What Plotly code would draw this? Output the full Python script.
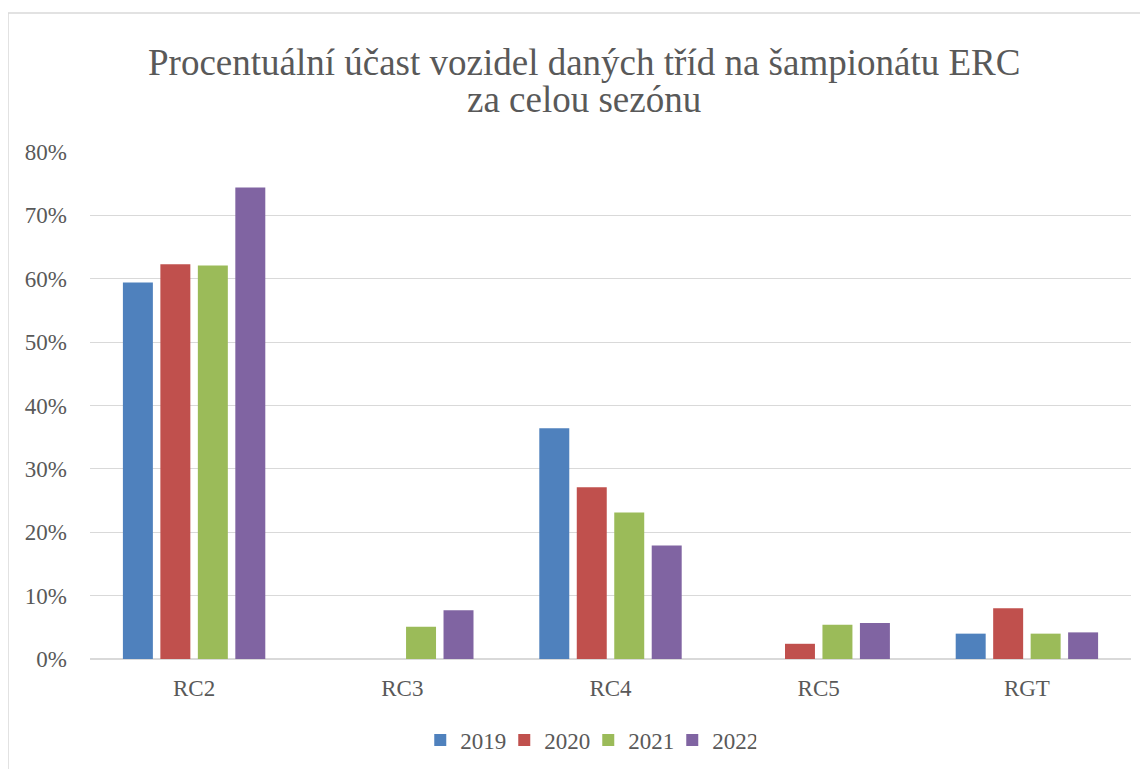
import plotly.graph_objects as go

# category labels and yearly shares (fraction of entries)
classes = ['RC2', 'RC3', 'RC4', 'RC5', 'RGT']
years = ['2019', '2020', '2021', '2022']
share_2019 = [0.594, 0.0, 0.364, 0.0, 0.040]
share_2020 = [0.623, 0.0, 0.271, 0.024, 0.080]
share_2021 = [0.621, 0.051, 0.231, 0.054, 0.040]
share_2022 = [0.744, 0.077, 0.179, 0.057, 0.042]
y_ticks = [0, 0.1, 0.2, 0.3, 0.4, 0.5, 0.6, 0.7, 0.8]

series = [share_2019, share_2020, share_2021, share_2022]
colors = ['#4F81BD', '#C0504D', '#9BBB59', '#8064A2']

serif = 'Liberation Serif, Times New Roman, serif'
text_grey = '#595959'

fig = go.Figure()

for name, vals, col in zip(years, series, colors):
    fig.add_trace(go.Bar(
        x=classes,
        y=vals,
        name=name,
        marker=dict(color=col, line=dict(width=0)),
        hovertemplate='%{x} ' + name + ': %{y:.1%}<extra></extra>'
    ))

# plot area: 1041 x 507 px, page offset of 8px from the html body margin
fig.update_layout(
    width=1140,
    height=761,
    paper_bgcolor='white',
    plot_bgcolor='white',
    barmode='group',
    bargap=0.28,
    bargroupgap=0.2,
    margin=dict(l=82, r=17, t=144, b=110),
    font=dict(family=serif, size=23, color=text_grey),
    xaxis=dict(
        showgrid=False,
        showline=False,
        ticks='',
        ticklabelstandoff=13,
        tickfont=dict(family=serif, size=23, color=text_grey),
    ),
    yaxis=dict(
        range=[0, 0.8],
        tickvals=y_ticks,
        tickformat='.0%',
        gridcolor='#D9D9D9',
        gridwidth=1,
        zeroline=True,
        zerolinecolor='#D9D9D9',
        zerolinewidth=2,
        showline=False,
        ticks='',
        ticklabelstandoff=22,
        tickfont=dict(family=serif, size=23, color=text_grey),
    ),
    legend=dict(
        orientation='h',
        xref='container',
        yref='container',
        x=0.509,
        xanchor='center',
        y=0.038,
        yanchor='middle',
        font=dict(family=serif, size=23, color=text_grey),
        itemwidth=30,
        entrywidth=39,
        entrywidthmode='pixels',
        traceorder='normal',
    ),
    annotations=[
        dict(text='Procentuální účast vozidel daných tříd na šampionátu ERC',
             xref='paper', yref='paper', x=0.475, y=1.1775,
             xanchor='center', yanchor='middle', showarrow=False,
             font=dict(family=serif, size=37, color=text_grey)),
        dict(text='za celou sezónu',
             xref='paper', yref='paper', x=0.475, y=1.1026,
             xanchor='center', yanchor='middle', showarrow=False,
             font=dict(family=serif, size=37, color=text_grey)),
    ],
    shapes=[dict(
        type='rect',
        xref='paper', yref='paper',
        x0=-82 / 1041, x1=1.05,
        y0=-0.3, y1=1 + 139 / 507,
        line=dict(color='#D9D9D9', width=1.5),
        fillcolor='rgba(0,0,0,0)',
        layer='below'
    )],
)

fig.write_html("out.html")
